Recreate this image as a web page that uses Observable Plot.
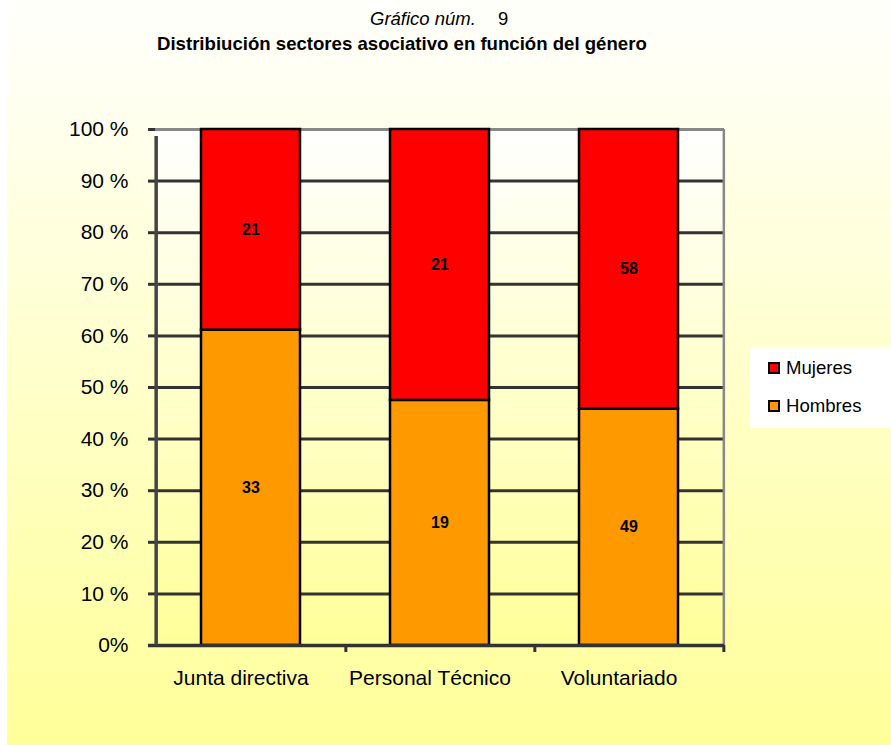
<!DOCTYPE html>
<html>
<head>
<meta charset="utf-8">
<script src="https://cdn.jsdelivr.net/npm/d3@7"></script>
<script src="https://cdn.jsdelivr.net/npm/@observablehq/plot@0.6"></script>
<style>
  html, body { margin:0; padding:0; background:#fff; width:891px; height:745px; overflow:hidden; font-family:"Liberation Sans", Arial, sans-serif; }
  #panel { position:absolute; left:7px; top:0; right:0; bottom:0; background:linear-gradient(to bottom, #fffffc 0%, #fffff2 12%, #ffff99 100%); }
  #plotbg { position:absolute; left:155px; top:129px; width:569px; height:516px; background:linear-gradient(to bottom, #ffffff 0%, #ffff99 100%); }
  #chart { position:absolute; left:0; top:60px; }
  #t1 { position:absolute; top:8px; left:370px; font-size:18.5px; white-space:nowrap; }
  #t1 span { position:absolute; left:128px; top:0; }
  #t2 { position:absolute; top:33px; left:157px; font-size:18.6px; font-weight:bold; white-space:nowrap; }
  #legend { position:absolute; left:750px; top:347px; width:141px; height:81px; background:#fff; }
  .item { position:absolute; left:18px; font-size:18.6px; line-height:22px; display:flex; align-items:center; white-space:nowrap; }
  .sw { width:8px; height:8px; border:2px solid #000; margin-right:6px; }
</style>
</head>
<body>
<div id="panel"></div>
<div id="plotbg"></div>
<div id="t1"><i>Gráfico núm.</i><span>9</span></div>
<div id="t2">Distribiución sectores asociativo en función del género</div>
<div id="chart"></div>
<div id="legend"></div>
<script>
const categories = ["Junta directiva", "Personal Técnico", "Voluntariado"];
const series = ["Hombres", "Mujeres"];
const hombres = [33, 19, 49];
const mujeres = [21, 21, 58];
const seriesColors = ["#ff9900", "#ff0000"];
const yTicks = [0, 0.1, 0.2, 0.3, 0.4, 0.5, 0.6, 0.7, 0.8, 0.9, 1];
const yTickLabels = ["0%", "10 %", "20 %", "30 %", "40 %", "50 %", "60 %", "70 %", "80 %", "90 %", "100 %"];
const legendOrder = ["Mujeres", "Hombres"];

const data = [
  ...categories.map((c, i) => ({cat: c, gender: "Hombres", value: hombres[i]})),
  ...categories.map((c, i) => ({cat: c, gender: "Mujeres", value: mujeres[i]}))
];

const W = 891, H = 685, ML = 155, MR = 167, MT = 69, MB = 100;
const step = (W - ML - MR) / categories.length;

const chart = Plot.plot({
  width: W, height: H,
  marginLeft: ML, marginRight: MR, marginTop: MT, marginBottom: MB,
  x: {domain: categories, padding: 0, label: null},
  y: {domain: [0, 1], label: null},
  color: {domain: series, range: seriesColors},
  style: {background: "transparent", fontFamily: "'Liberation Sans', Arial, sans-serif", overflow: "visible"},
  marks: [
    Plot.ruleY(yTicks.filter(d => d > 0 && d < 1), {stroke: "#333", strokeWidth: 3}),
    Plot.ruleY([1], {stroke: "#888", strokeWidth: 3}),
    Plot.ruleX([categories[categories.length - 1]], {dx: step / 2, y1: 0, y2: 1, stroke: "#888", strokeWidth: 2.5}),
    Plot.barY(data, Plot.stackY({offset: "normalize"}, {
      x: "cat", y: "value", fill: "gender", stroke: "#000", strokeWidth: 2.5,
      insetLeft: 45, insetRight: 45
    })),
    Plot.text(data, Plot.stackY({offset: "normalize"}, {
      x: "cat", y: "value", text: "value", fontWeight: "bold", fontSize: 16, fill: "#000"
    })),
    Plot.axisY({
      ticks: yTicks,
      tickFormat: d => yTickLabels[yTicks.findIndex(t => Math.abs(t - d) < 1e-9)],
      tickSize: 7, tickPadding: 20, fontSize: 21, stroke: "#333", strokeWidth: 3, fill: "#000"
    }),
    Plot.axisX({tickSize: 0, tickPadding: 25, fontSize: 21, fill: "#000", dx: -10}),
    Plot.ruleY([0], {stroke: "#333", strokeWidth: 3.5, insetLeft: -7}),
    Plot.ruleX([categories[0]], {dx: -step / 2, y1: 0, y2: 1, stroke: "#444", strokeWidth: 3.5, insetBottom: -7}),
    Plot.ruleX(categories, {dx: step / 2, y1: 0, y2: 0, stroke: "#333", strokeWidth: 3, insetBottom: -7})
  ]
});
document.getElementById("chart").appendChild(chart);

const legend = document.getElementById("legend");
legendOrder.forEach((s, i) => {
  const item = document.createElement("div");
  item.className = "item";
  item.style.top = (10 + i * 38) + "px";
  const sw = document.createElement("div");
  sw.className = "sw";
  sw.style.background = seriesColors[series.indexOf(s)];
  item.appendChild(sw);
  item.appendChild(document.createTextNode(s));
  legend.appendChild(item);
});
</script>
</body>
</html>
